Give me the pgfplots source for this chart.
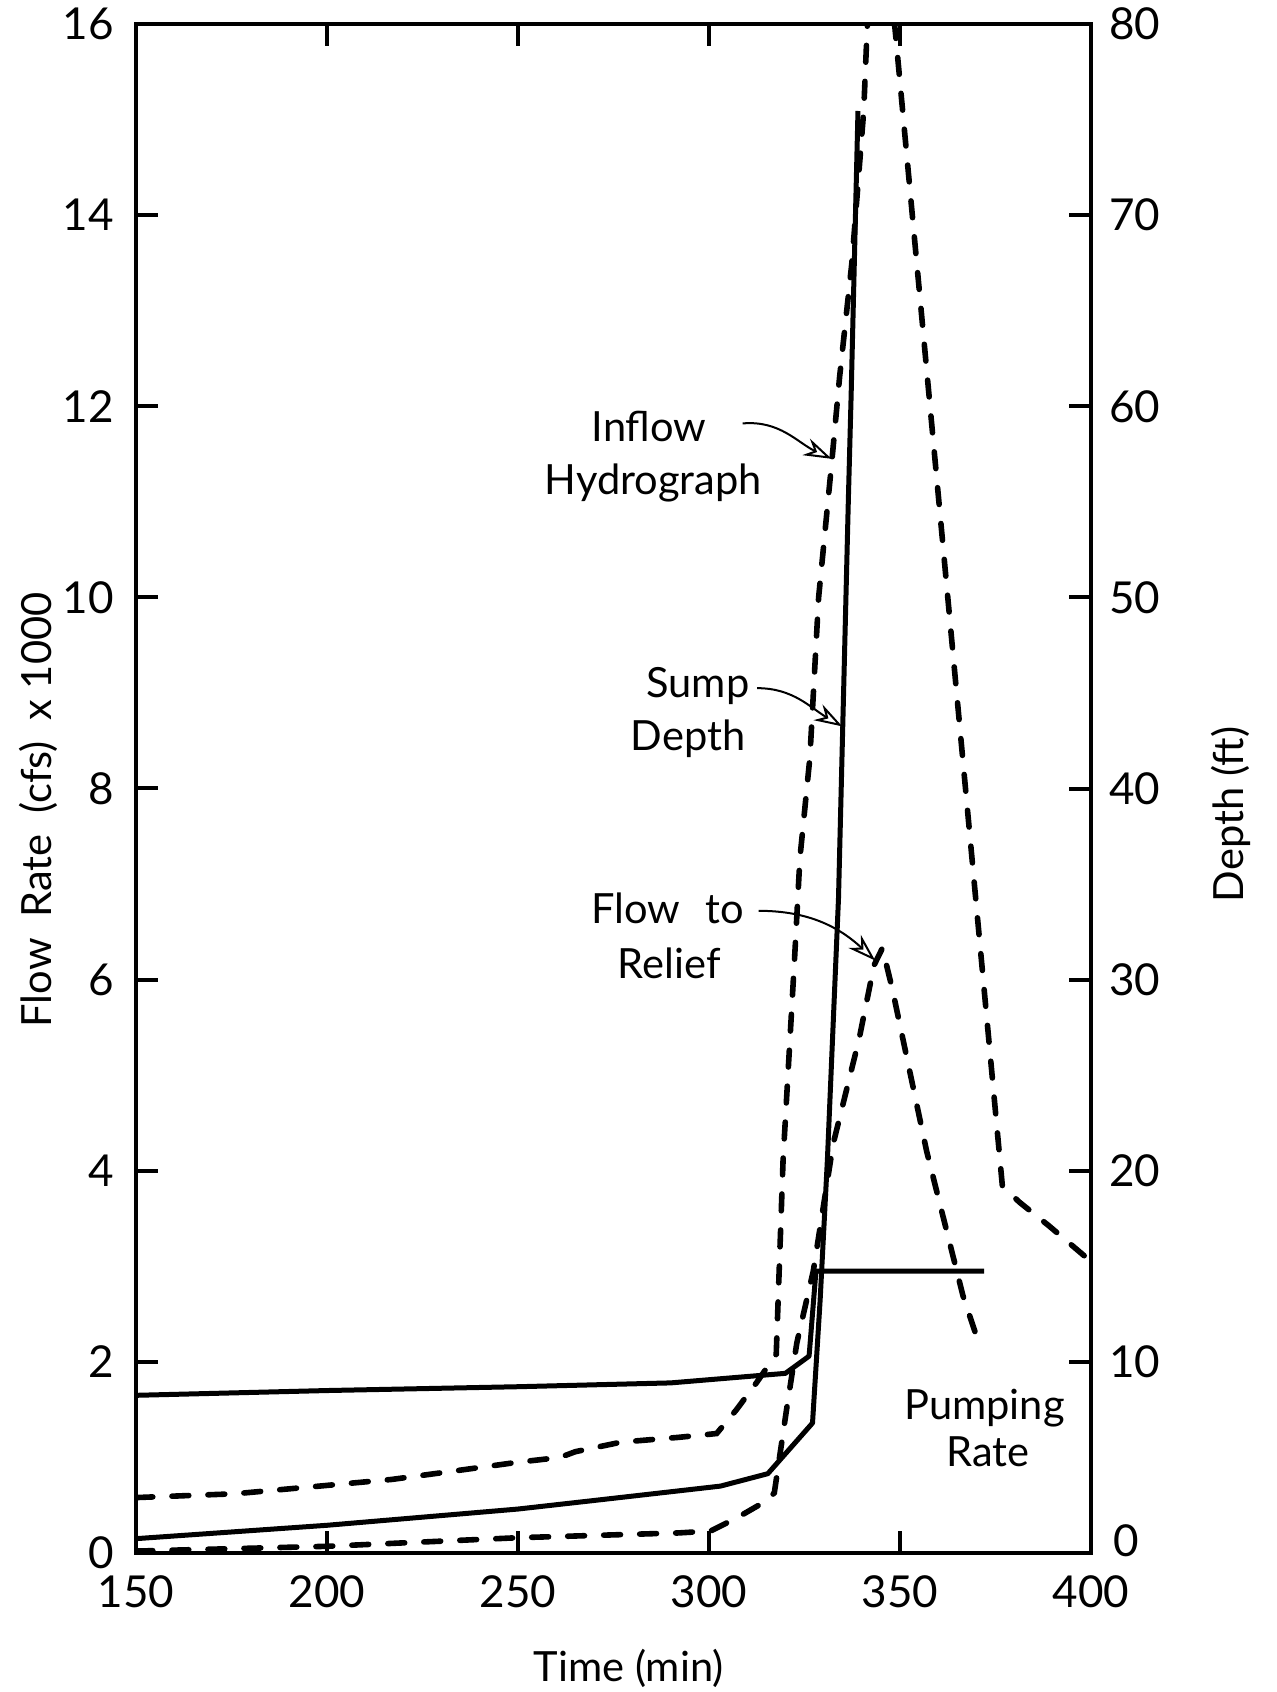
\documentclass[border=0pt]{standalone}
\usepackage{fontspec}
\setmainfont{Lato}
\usepackage{pgfplots}
\usepackage{pgfplotstable}
\pgfplotsset{compat=1.18}
\usetikzlibrary{arrows.meta}

% Inflow hydrograph, cfs x 1000
\pgfplotstableread{
t q
150 0.58
176 0.62
198 0.70
217 0.77
230 0.84
250 0.95
261 1.00
265 1.06
277 1.16
292 1.21
302 1.25
307.2 1.50
312.4 1.78
317.6 2.08
319.4 4.12
320.9 5.17
322.4 6.22
323.8 7.27
326.4 8.32
328.7 10.0
332.1 11.4
334.2 12.31
337.4 13.5
340.5 15.09
341.4 15.95
344.0 17.5
348.7 15.95
376.8 3.84
381.3 3.67
389.1 3.42
400 3.05
}\inflow

% Flow to relief, cfs x 1000
\pgfplotstableread{
t q
150 0.02
200 0.07
250 0.16
292 0.21
300.4 0.23
307.4 0.37
315.2 0.55
317.1 0.63
320.3 1.50
323.0 2.20
327.3 2.95
332.5 4.28
339.3 5.38
343.2 6.15
345.4 6.33
348.0 5.90
357.0 4.20
366.5 2.69
371.1 2.14
}\relief

% Pumping rate, cfs x 1000
\pgfplotstableread{
t q
150 1.65
200 1.70
250 1.74
290 1.78
320 1.88
326.2 2.06
328.0 2.95
372 2.95
}\pumping

% Sump depth, ft
\pgfplotstableread{
t d
150 0.75
200 1.45
250 2.30
270 2.75
292 3.25
303 3.50
315.4 4.15
327.1 6.80
329.1 13.25
331.0 20.60
333.9 34.25
336.5 55.25
337.2 60.50
339.0 75.45
}\sump

\tikzset{
  dashcurve/.style={line width=1.4pt, line cap=round, dash pattern=on 4.2pt off 4.8pt},
  solidcurve/.style={line width=1.25pt, line join=round},
  callout/.style={line width=0.5pt, -{Stealth[open,length=7pt,width=4.5pt]}},
  lab/.style={anchor=base, font=\fontsize{10.4}{12}\selectfont},
}

\pgfplotsset{
  frame/.style={
    at={(0pt,0pt)}, anchor=south west,
    scale only axis, width=238.75pt, height=382.25pt,
    xmin=150, xmax=400,
    tick align=inside,
    major tick length=5.5pt,
    every tick/.style={line width=1pt, black},
    axis line style={line width=1pt},
    tick label style={font=\fontsize{11}{12}\selectfont},
    /pgf/number format/assume math mode=true,
    label style={font=\fontsize{10.4}{12}\selectfont},
  }
}

\begin{document}
\begin{tikzpicture}
\path[use as bounding box] (-34pt,-34.75pt) rectangle (285pt,388.25pt);

\begin{axis}[
  frame,
  ymin=0, ymax=16,
  xtick={150,200,...,400}, ytick={0,2,...,16},
  xtick pos=both, ytick pos=left,
  yticklabel style={xshift=-2pt},
  xticklabel style={yshift=-2pt},
  xlabel={Time (min)},
  xlabel style={at={(axis description cs:0.516,-0.0752)}, anchor=center},
  ylabel={Flow\hspace{0.5em}Rate\hspace{0.5em}(cfs)\hspace{0.5em}x 1000},
  ylabel style={at={(axis description cs:-0.1026,0.486)}, anchor=center},
]
\addplot[dashcurve] table[x=t,y=q] {\inflow};
\addplot[dashcurve] table[x=t,y=q] {\relief};
\addplot[solidcurve] table[x=t,y=q] {\pumping};

\node[lab] at (axis cs:284.3,11.63) {Inflow};
\node[lab] at (axis cs:285.4,11.08) {Hydrograph};
\draw[callout] (axis cs:308.8,11.82) to[out=5,in=155] (axis cs:332.1,11.45);

\node[lab] at (axis cs:297.1,8.95) {Sump};
\node[lab] at (axis cs:294.5,8.40) {Depth};
\draw[callout] (axis cs:312.6,9.05) to[out=0,in=150] (axis cs:334.9,8.65);

\node[lab] at (axis cs:289.2,6.59) {Flow\hspace{0.6em}to};
\node[lab] at (axis cs:289.6,6.01) {Relief};
\draw[callout] (axis cs:313.0,6.72) to[out=0,in=137] (axis cs:343.5,6.20);

\node[lab] at (axis cs:372.1,1.40) {Pumping};
\node[lab] at (axis cs:373.1,0.91) {Rate};
\end{axis}

\begin{axis}[
  frame,
  ymin=0, ymax=80,
  axis x line=none, axis y line*=right,
  ytick={10,20,...,80},
  yticklabel style={xshift=1pt},
  extra y ticks={0},
  extra y tick style={yticklabel style={xshift=1pt, yshift=3pt}},
  ylabel={Depth (ft)},
  ylabel style={at={(axis description cs:1.1466,0.483)}, anchor=center, rotate=0},
]
\addplot[solidcurve] table[x=t,y=d] {\sump};
\end{axis}
\end{tikzpicture}
\end{document}
